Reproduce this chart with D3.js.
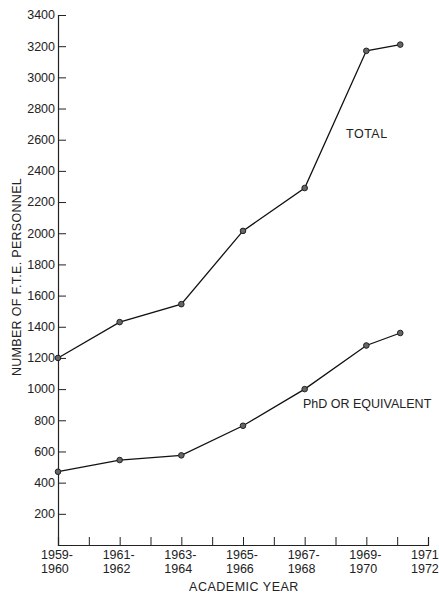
<!DOCTYPE html>
<html>
<head>
<meta charset="utf-8">
<script src="https://cdn.jsdelivr.net/npm/d3@7"></script>
<style>
  body { margin: 0; background: #fff; }
  text { font-family: "Liberation Sans", Arial, sans-serif; fill: #222; }
</style>
</head>
<body>
<div id="chart"></div>
<script>
// academic year start (x position) for each plotted point
var years = [1959, 1961, 1963, 1965, 1967, 1969, 1970.1];
var totalValues = [1200, 1430, 1545, 2015, 2290, 3170, 3210];
var phdValues = [470, 545, 575, 765, 1000, 1280, 1360];
var yTicks = [200, 400, 600, 800, 1000, 1200, 1400, 1600, 1800, 2000, 2200, 2400, 2600, 2800, 3000, 3200, 3400];
var xLabelYears = [1959, 1961, 1963, 1965, 1967, 1969, 1971];
var xLabels = [["1959-", "1960"], ["1961-", "1962"], ["1963-", "1964"], ["1965-", "1966"], ["1967-", "1968"], ["1969-", "1970"], ["1971", "1972"]];

var width = 439, height = 594;
var margin = {top: 15, right: 11, bottom: 49, left: 58};

var svg = d3.select("#chart")
  .append("svg")
    .attr("width", width)
    .attr("height", height);

var g = svg.append("g")
  .attr("transform", "translate(" + margin.left + "," + margin.top + ")");

var h = height - margin.top - margin.bottom;

var x = d3.scaleLinear().domain([1959, 1971]).range([0, 370]);
var y = d3.scaleLinear().domain([0, 3400]).range([h, 0]);

// Y axis (ticks pointing inward)
var yAxis = g.append("g")
  .call(d3.axisRight(y).tickValues(yTicks).tickSize(8).tickFormat(""));
yAxis.select(".domain").attr("stroke", "#222").attr("stroke-width", 1.2);
yAxis.selectAll(".tick line").attr("stroke", "#222");

g.selectAll(".ylab")
  .data(yTicks)
  .enter().append("text")
    .attr("x", -3)
    .attr("y", function(d) { return y(d); })
    .attr("dy", "0.35em")
    .attr("text-anchor", "end")
    .style("font-size", "12.5px")
    .text(function(d) { return d; });

// X axis (ticks pointing up)
var xAxis = g.append("g")
  .attr("transform", "translate(0," + h + ")")
  .call(d3.axisTop(x).tickValues(d3.range(1960, 1972)).tickSize(8).tickFormat(""));
xAxis.select(".domain").attr("stroke", "#222").attr("stroke-width", 1.2);
xAxis.selectAll(".tick line").attr("stroke", "#222");

var xl = g.selectAll(".xlab")
  .data(xLabelYears)
  .enter().append("text")
    .attr("y", h + 14)
    .style("font-size", "12.5px");
xl.append("tspan")
  .attr("x", function(d) { return x(d) - 17; })
  .text(function(d, i) { return xLabels[i][0]; });
xl.append("tspan")
  .attr("x", function(d) { return x(d) - 17; })
  .attr("dy", 14)
  .text(function(d, i) { return xLabels[i][1]; });

// axis titles
svg.append("text")
  .attr("x", 244)
  .attr("y", 591)
  .attr("text-anchor", "middle")
  .style("font-size", "12.5px")
  .style("letter-spacing", "0.5px")
  .text("ACADEMIC YEAR");

svg.append("text")
  .attr("transform", "translate(21,277) rotate(-90)")
  .attr("text-anchor", "middle")
  .style("font-size", "12.5px")
  .style("letter-spacing", "0.3px")
  .text("NUMBER OF F.T.E. PERSONNEL");

// lines
var line = d3.line()
  .x(function(d) { return x(d[0]); })
  .y(function(d) { return y(d[1]); });

function series(values) {
  return years.map(function(yr, i) { return [yr, values[i]]; });
}

[totalValues, phdValues].forEach(function(vals) {
  var pts = series(vals);
  g.append("path")
    .datum(pts)
    .attr("d", line)
    .attr("fill", "none")
    .attr("stroke", "#111")
    .attr("stroke-width", 1.3);
  g.selectAll(null)
    .data(pts)
    .enter().append("circle")
      .attr("cx", function(d) { return x(d[0]); })
      .attr("cy", function(d) { return y(d[1]); })
      .attr("r", 2.8)
      .attr("fill", "#666")
      .attr("stroke", "#222")
      .attr("stroke-width", 1);
});

// series labels
svg.append("text")
  .attr("x", 346)
  .attr("y", 138)
  .style("font-size", "12.5px")
  .style("letter-spacing", "0.5px")
  .text("TOTAL");

svg.append("text")
  .attr("x", 303)
  .attr("y", 408)
  .style("font-size", "12.5px")
  .text("PhD OR EQUIVALENT");
</script>
</body>
</html>
